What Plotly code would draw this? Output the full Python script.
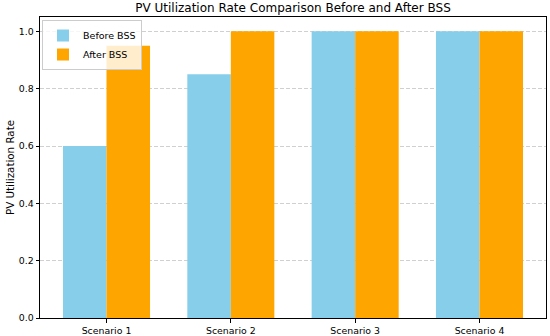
import plotly.graph_objects as go

categories = ["Scenario 1", "Scenario 2", "Scenario 3", "Scenario 4"]
before_bss = [0.60, 0.85, 1.0, 1.0]
after_bss = [0.95, 1.0, 1.0, 1.0]
y_ticks = [0.0, 0.2, 0.4, 0.6, 0.8, 1.0]

x = list(range(len(categories)))
font = "DejaVu Sans, Verdana, sans-serif"

fig = go.Figure()
fig.add_trace(go.Bar(x=x, y=before_bss, name="Before BSS", marker=dict(color="#87CEEB", line=dict(width=0))))
fig.add_trace(go.Bar(x=x, y=after_bss, name="After BSS", marker=dict(color="#FFA500", line=dict(width=0))))

fig.update_layout(
    width=550, height=336,
    barmode="group", bargap=0.3, bargroupgap=0,
    paper_bgcolor="white", plot_bgcolor="white",
    margin=dict(l=40, r=4, t=17, b=18),
    font=dict(family=font, size=9.5, color="black"),
    title=dict(text="PV Utilization Rate Comparison Before and After BSS",
               x=0.5, xanchor="center", xref="paper", y=0.99, yanchor="top",
               font=dict(size=12, family=font, color="black")),
    legend=dict(x=0.004, y=0.99, xanchor="left", yanchor="top",
                bgcolor="rgba(255,255,255,0.8)", bordercolor="#cccccc", borderwidth=1,
                font=dict(size=9.5, family=font), itemwidth=30, tracegroupgap=0),
    showlegend=True,
)
fig.update_xaxes(
    range=[-0.535, 3.535], tickmode="array", tickvals=x, ticktext=categories,
    showline=True, linecolor="black", linewidth=1, mirror=True,
    ticks="outside", ticklen=3.5, tickcolor="black", showgrid=False, zeroline=False,
    tickfont=dict(size=9.4), automargin=False,
)
fig.update_yaxes(
    range=[0, 1.05], tickmode="array", tickvals=y_ticks, ticktext=[f"{v:.1f}" for v in y_ticks],
    showline=True, linecolor="black", linewidth=1, mirror=True,
    ticks="outside", ticklen=3.5, tickcolor="black",
    showgrid=True, gridcolor="rgba(176,176,176,0.6)", griddash="4px,2px", gridwidth=1,
    zeroline=False, tickfont=dict(size=9.4), automargin=False,
    title=dict(text="PV Utilization Rate", font=dict(size=10.3), standoff=2),
)
fig.write_html("out.html", config={"displayModeBar": False},
               post_script="document.body.style.margin='0px';")
